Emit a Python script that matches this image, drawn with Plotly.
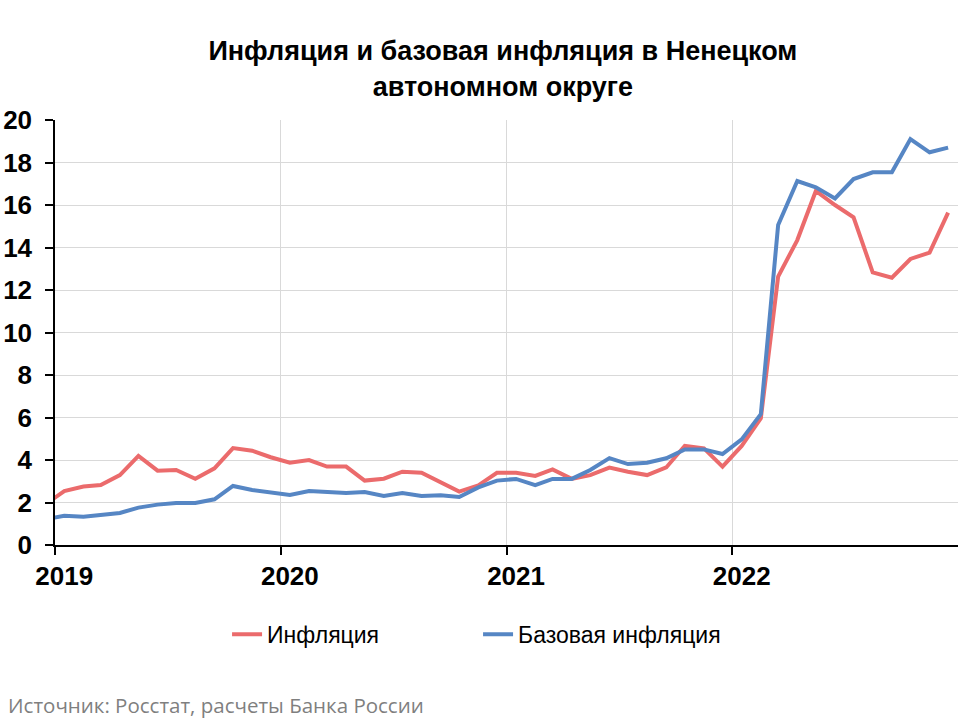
import pandas as pd
import plotly.graph_objects as go

# Monthly data, Dec 2018 .. Dec 2022 (% y/y)
months = pd.date_range("2018-12-01", periods=49, freq="MS") + pd.Timedelta(days=15)

inflation = [
    1.9,
    2.54, 2.75, 2.82, 3.29, 4.19, 3.5, 3.53, 3.12, 3.61, 4.56, 4.44, 4.13,
    3.87, 4.0, 3.69, 3.69, 3.03, 3.12, 3.45, 3.4, 2.93, 2.51, 2.81, 3.4,
    3.4, 3.25, 3.56, 3.11, 3.29, 3.64, 3.45, 3.29, 3.65, 4.67, 4.55, 3.69,
    4.66, 5.96, 12.63, 14.35, 16.66, 16.0, 15.42, 12.83, 12.58, 13.46, 13.76, 15.64,
]
core_inflation = [
    1.2,
    1.38, 1.33, 1.43, 1.51, 1.76, 1.9, 1.98, 1.98, 2.15, 2.78, 2.59, 2.49,
    2.35, 2.54, 2.49, 2.45, 2.49, 2.31, 2.45, 2.31, 2.34, 2.26, 2.71, 3.03,
    3.11, 2.82, 3.11, 3.11, 3.53, 4.09, 3.81, 3.87, 4.08, 4.5, 4.5, 4.28,
    4.97, 6.16, 15.06, 17.13, 16.83, 16.31, 17.22, 17.54, 17.54, 19.1, 18.48, 18.7,
]

year_labels = ["2019", "2020", "2021", "2022"]
year_label_pos = [f"{y}-01-16" for y in year_labels]
year_bounds = [f"{y}-01-01" for y in year_labels]

RED = "#EB6B6C"
BLUE = "#5686C4"
GRID = "#D9D9D9"
FONT = "Liberation Sans, Arial, sans-serif"

fig = go.Figure()
fig.add_trace(go.Scatter(x=months, y=inflation, mode="lines", name="Инфляция",
                         line=dict(color=RED, width=4)))
fig.add_trace(go.Scatter(x=months, y=core_inflation, mode="lines", name="Базовая инфляция",
                         line=dict(color=BLUE, width=4)))

fig.update_layout(
    width=960, height=720,
    margin=dict(l=55, r=2, t=120, b=175),
    paper_bgcolor="white", plot_bgcolor="white",
    font=dict(family=FONT, color="black"),
    title=dict(
        text="<b>Инфляция и базовая инфляция в Ненецком<br>автономном округе</b>",
        x=0.496, xref="paper", xanchor="center",
        y=0.916, yref="container", yanchor="middle",
        font=dict(size=27, family=FONT, color="black"),
    ),
    showlegend=True,
    legend=dict(
        orientation="h", x=0.4685, xanchor="center", xref="paper",
        y=-0.21, yanchor="middle",
        font=dict(size=23, family=FONT),
        entrywidth=206, itemwidth=30,
    ),
)

fig.update_yaxes(
    range=[0, 20], dtick=2, tick0=0,
    showgrid=True, gridcolor=GRID, gridwidth=1,
    showline=True, linecolor="black", linewidth=1.5,
    ticks="outside", ticklen=8, tickcolor="black", tickwidth=1.5,
    tickfont=dict(size=26, family=FONT, weight="bold"),
    ticklabelstandoff=8,
    zeroline=False,
)
fig.update_xaxes(
    type="date", range=["2019-01-01", "2023-01-01"],
    tickmode="array", tickvals=year_label_pos, ticktext=year_labels,
    ticks="", showgrid=False,
    showline=True, linecolor="black", linewidth=1.5,
    tickfont=dict(size=26, family=FONT, weight="bold"),
    ticklabelstandoff=7,
    minor=dict(tickmode="array", tickvals=year_bounds, ticks="outside", ticklen=8,
               tickcolor="black", tickwidth=1.5, showgrid=True, gridcolor=GRID, gridwidth=1),
    zeroline=False,
)

fig.add_annotation(
    text="Источник: Росстат, расчеты Банка России",
    xref="paper", yref="paper", x=-0.054, y=-0.376,
    xanchor="left", yanchor="middle", showarrow=False,
    font=dict(size=20.5, family="Open Sans, sans-serif", color="#7F7F7F"),
)

fig.write_html(
    "out.html",
    config={"displayModeBar": False},
    post_script="document.body.style.margin='0';document.body.style.overflow='hidden';",
)
